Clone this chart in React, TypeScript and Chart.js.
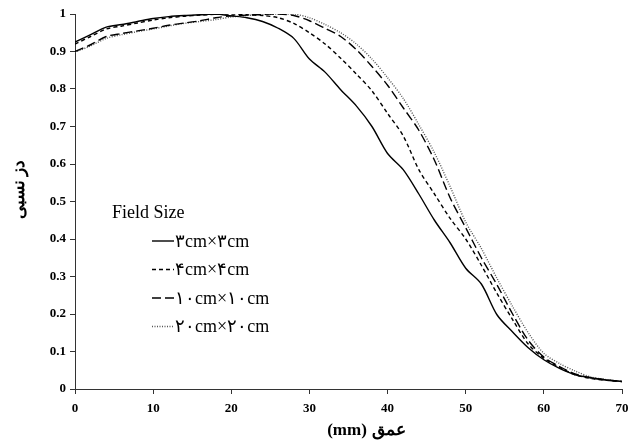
import React, { useEffect, useRef } from "react";
import { Chart, registerables } from "chart.js";

Chart.register(...registerables);

const depth = [0, 2, 4, 6, 8, 10, 12, 14, 16, 18, 20, 22, 24, 26, 28, 30, 32, 34, 36, 38, 40, 42, 44, 46, 48, 50, 52, 54, 56, 58, 60, 62, 64, 66, 68, 70];

const field3 = [0.925, 0.945, 0.965, 0.972, 0.98, 0.988, 0.993, 0.996, 0.998, 1.0, 0.995, 0.99, 0.98, 0.962, 0.935, 0.88, 0.845, 0.798, 0.755, 0.7, 0.628, 0.585, 0.52, 0.45, 0.39, 0.322, 0.28, 0.198, 0.152, 0.11, 0.078, 0.055, 0.038, 0.03, 0.024, 0.02];
const field4 = [0.92, 0.94, 0.96, 0.968, 0.976, 0.984, 0.99, 0.994, 0.997, 0.999, 1.0, 0.998, 0.996, 0.99, 0.975, 0.95, 0.92, 0.882, 0.84, 0.795, 0.735, 0.675, 0.585, 0.52, 0.455, 0.4, 0.33, 0.255, 0.185, 0.12, 0.082, 0.058, 0.038, 0.028, 0.023, 0.02];
const field10 = [0.9, 0.918, 0.94, 0.948, 0.955, 0.962, 0.97, 0.976, 0.982, 0.99, 0.995, 0.997, 0.999, 1.0, 0.996, 0.982, 0.962, 0.94, 0.905, 0.86, 0.81, 0.75, 0.69, 0.61, 0.51, 0.43, 0.35, 0.278, 0.2, 0.13, 0.085, 0.06, 0.04, 0.03, 0.024, 0.02];
const field20 = [0.898, 0.915, 0.935, 0.945, 0.953, 0.96, 0.968, 0.975, 0.98, 0.985, 0.992, 0.996, 0.998, 1.0, 1.0, 0.99, 0.972, 0.95, 0.92, 0.88, 0.83, 0.775, 0.705, 0.63, 0.54, 0.445, 0.375, 0.295, 0.22, 0.15, 0.095, 0.068, 0.048, 0.032, 0.025, 0.02];

const seriesLabels = ["۳cm×۳cm", "۴cm×۴cm", "۱۰cm×۱۰cm", "۲۰cm×۲۰cm"];
const legendTitle = "Field Size";
const xTitleUnit = "(mm)";
const xTitleWord = "عمق";
const yTitle = "دز نسبی";

const SERIF = "'Liberation Serif', 'Times New Roman', 'DejaVu Serif', serif";

const overlayPlugin = {
  id: "overlay",
  afterDraw(chart: any) {
    const ctx = chart.ctx as CanvasRenderingContext2D;
    const area = chart.chartArea;
    ctx.save();
    (ctx as any).direction = "ltr";
    // legend
    ctx.fillStyle = "#000";
    ctx.font = `18px ${SERIF}`;
    ctx.textBaseline = "alphabetic";
    ctx.textAlign = "left";
    ctx.fillText(legendTitle, area.left + 37, area.top + 204);
    chart.data.datasets.forEach((ds: any, i: number) => {
      const y = area.top + 227 + i * 28.5;
      const x0 = area.left + 77;
      ctx.beginPath();
      ctx.strokeStyle = ds.borderColor;
      ctx.lineWidth = ds.borderWidth;
      ctx.setLineDash(ds.borderDash || []);
      ctx.moveTo(x0, y);
      ctx.lineTo(x0 + 22, y);
      ctx.stroke();
      ctx.setLineDash([]);
      ctx.fillStyle = "#000";
      ctx.textBaseline = "middle";
      ctx.fillText(ds.label, x0 + 23, y + 1);
    });
    // x axis title: "(mm)" on the left, Arabic word on the right
    ctx.font = `bold 17px ${SERIF}`;
    ctx.textBaseline = "middle";
    const gap = 5;
    const w1 = ctx.measureText(xTitleUnit).width;
    const w2 = ctx.measureText(xTitleWord).width;
    const total = w1 + gap + w2;
    const cx = (area.left + area.right) / 2 + 18;
    const yT = chart.height - 14;
    ctx.textAlign = "left";
    ctx.fillText(xTitleUnit, cx - total / 2, yT);
    ctx.fillText(xTitleWord, cx - total / 2 + w1 + gap, yT);
    // y axis title
    ctx.textAlign = "center";
    ctx.translate(20, (area.top + area.bottom) / 2 - 12);
    ctx.rotate(-Math.PI / 2);
    ctx.fillText(yTitle, 0, 0);
    ctx.restore();
  },
};

export default function App() {
  const canvasRef = useRef<HTMLCanvasElement | null>(null);

  useEffect(() => {
    document.body.style.margin = "0";
    const canvas = canvasRef.current;
    if (!canvas) return;
    const mk = (label: string, data: number[], color: string, dash: number[]) => ({
      label,
      data: data.map((v, j) => ({ x: depth[j], y: v })),
      borderColor: color,
      backgroundColor: color,
      borderWidth: 1.4,
      borderDash: dash,
      pointRadius: 0,
      tension: 0.3,
      fill: false,
    });
    const chart = new Chart(canvas, {
      type: "line",
      data: {
        datasets: [
          mk(seriesLabels[0], field3, "#000", []),
          mk(seriesLabels[1], field4, "#000", [4, 3]),
          mk(seriesLabels[2], field10, "#000", [9, 4]),
          mk(seriesLabels[3], field20, "#555", [1, 1.5]),
        ] as any,
      },
      options: {
        animation: false,
        responsive: false,
        maintainAspectRatio: false,
        layout: { padding: { left: 0, right: 18, top: 14, bottom: 0 } },
        plugins: { legend: { display: false }, tooltip: { enabled: false } },
        scales: {
          x: {
            type: "linear",
            min: 0,
            max: 70,
            ticks: { stepSize: 10, color: "#000", font: { family: SERIF, size: 13, weight: "bold" }, padding: 7, maxRotation: 0 },
            grid: { drawOnChartArea: false, drawTicks: true, tickLength: 5, color: "#333" },
            border: { color: "#333", width: 1 },
            afterFit: (s: any) => { s.height = 56; },
          },
          y: {
            type: "linear",
            min: 0,
            max: 1,
            ticks: {
              stepSize: 0.1,
              color: "#000",
              font: { family: SERIF, size: 13, weight: "bold" },
              padding: 4,
              callback: (v: any) => String(Math.round(Number(v) * 10) / 10),
            },
            grid: { drawOnChartArea: false, drawTicks: true, tickLength: 5, color: "#333" },
            border: { color: "#333", width: 1 },
            afterFit: (s: any) => { s.width = 75; },
          },
        },
      } as any,
      plugins: [overlayPlugin],
    });
    return () => chart.destroy();
  }, []);

  return (
    <div style={{ width: 640, height: 445, background: "#fff" }}>
      <canvas ref={canvasRef} width={640} height={445} style={{ display: "block" }} />
    </div>
  );
}
